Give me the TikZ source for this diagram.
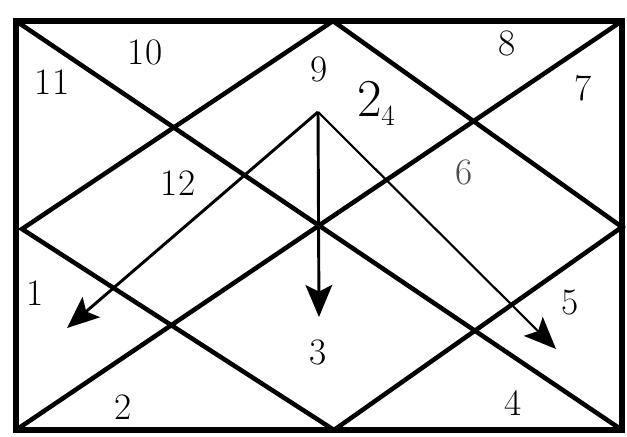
\documentclass[tikz,border=0pt]{standalone}
\usepackage{tikz}
\usetikzlibrary{arrows.meta}

\begin{document}
\begin{tikzpicture}[x=0.75pt,y=-0.75pt,
    chartline/.style={line width=3.4pt},
    ray/.style={line width=2.2pt,-{Stealth[length=24pt,width=20pt,inset=5pt]}},
    house/.style={font=\fontsize{28}{32}\selectfont,inner sep=0pt}]
    \useasboundingbox (0,0) rectangle (627,436);

    % Corners of the chart
    \coordinate (tl) at (16,21);
    \coordinate (tr) at (622,21);
    \coordinate (br) at (622,430);
    \coordinate (bl) at (16,430);

    % Tips of the diamond
    \coordinate (top) at (333,21);
    \coordinate (right) at (622,227);
    \coordinate (bot) at (334,430);
    \coordinate (left) at (22,229);

    % Frame
    \draw[line width=4pt] (tl) rectangle (br);

    % Diagonals
    \draw[chartline] (tl) -- (br);
    \draw[chartline] (tr) -- (bl);

    % Diamond
    \draw[chartline, line join=miter] (top) -- (right) -- (bot) -- (left) -- cycle;

    % Arrows out of the first house
    \coordinate (src) at (318,112);
    \coordinate (endL) at (67,328);
    \coordinate (endD) at (319,317);
    \coordinate (endR) at (556,349);
    \draw[ray] (src) -- (endL);
    \draw[ray] (src) -- (endD);
    \draw[ray, line width=1.6pt] (src) -- (endR);

    % House numbers
    \node[house] (h10) at (145,52) {10};
    \node[house] (h11) at (52,82) {11};
    \node[house] (h9) at (319,69) {9};
    \node[house, font=\fontsize{40}{44}\selectfont] (h2a) at (370,99) {2};
    \node[house, font=\fontsize{22}{26}\selectfont] (h4a) at (388,116) {4};
    \node[house] (h12) at (178,183) {12};
    \node[house] (h8) at (507,43) {8};
    \node[house] (h7) at (583,88) {7};
    \node[house, text=black!70] (h6) at (464,172) {6};
    \node[house] (h1) at (35,293) {1};
    \node[house] (h2b) at (123,407) {2};
    \node[house] (h3) at (318,352) {3};
    \node[house] (h4b) at (513,403) {4};
    \node[house] (h5) at (570,302) {5};
\end{tikzpicture}
\end{document}
